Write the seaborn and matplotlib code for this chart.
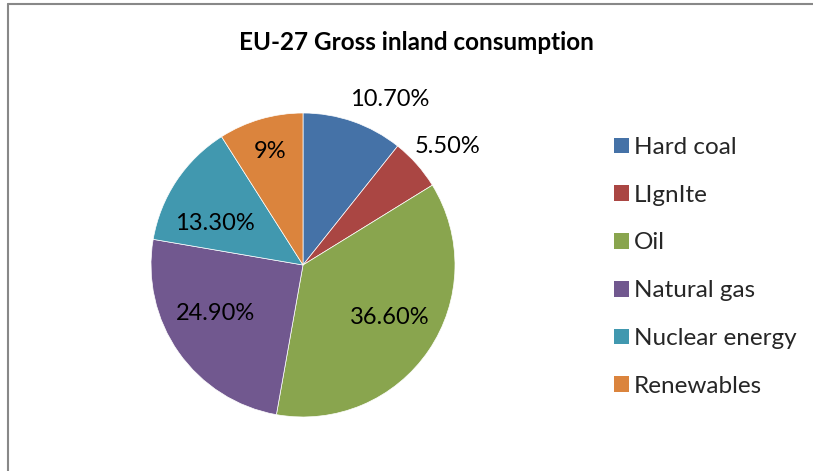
import matplotlib
matplotlib.use("Agg")
import matplotlib.pyplot as plt
import matplotlib.patches as mpatches
from matplotlib.lines import Line2D
import numpy as np
import seaborn as sns

# Energy mix shares (percent of gross inland consumption)
categories = ["Hard coal", "LIgnIte", "Oil", "Natural gas", "Nuclear energy", "Renewables"]
shares = [10.7, 5.5, 36.6, 24.9, 13.3, 9]
share_labels = ["10.70%", "5.50%", "36.60%", "24.90%", "13.30%", "9%"]
colors = ["#4572A7", "#AA4643", "#89A54E", "#71588F", "#4198AF", "#DB843D"]

# label placement: radial distance (in radii) and angular nudge (degrees, ccw)
label_dist = [1.23, 1.23, 0.665, 0.66, 0.64, 0.78]
label_nudge = [-8.5, -2.3, 3.0, -6.0, 8.7, 0.0]

sns.set_theme(style="white")
plt.rcParams["font.family"] = ["Lato", "DejaVu Sans"]
palette = sns.color_palette(colors)

W, H = 813, 471
fig = plt.figure(figsize=(W / 100, H / 100), dpi=100)
fig.patch.set_facecolor("white")

# pie axes: centre (303, 265) px, radius 152 px
cx, cy, r = 303, 265, 152
ax = fig.add_axes([(cx - r) / W, (H - cy - r) / H, 2 * r / W, 2 * r / H])

wedges, _ = ax.pie(
    shares,
    colors=palette,
    startangle=90,
    counterclock=False,
    radius=1.0,
    wedgeprops=dict(edgecolor="white", linewidth=0.5),
)
ax.set_xlim(-1, 1)
ax.set_ylim(-1, 1)
ax.axis("off")

for w, txt, d, nudge in zip(wedges, share_labels, label_dist, label_nudge):
    mid = np.deg2rad((w.theta1 + w.theta2) / 2 + nudge)
    ax.text(d * np.cos(mid), d * np.sin(mid), txt,
            ha="center", va="center", fontsize=17, color="#000000")

fig.text(416 / W, 1 - 42 / H, "EU-27 Gross inland consumption",
         ha="center", va="center", fontsize=17.5, fontweight="bold", color="#000000")

handles = [mpatches.Patch(facecolor=c, edgecolor="none") for c in palette]
fig.legend(handles, categories, loc="upper left",
           bbox_to_anchor=(614 / W, 1 - 137 / H),
           frameon=False, fontsize=17.5,
           handlelength=0.62, handleheight=0.62, handletextpad=0.2,
           labelspacing=1.1, borderaxespad=0, borderpad=0)

# chart-area border (left and top edges)
fig.add_artist(Line2D([7.5 / W, 7.5 / W], [0, 1 - 3.5 / H], color="#888888",
                      linewidth=1.5, transform=fig.transFigure))
fig.add_artist(Line2D([7.5 / W, 1], [1 - 3.5 / H, 1 - 3.5 / H], color="#888888",
                      linewidth=1.5, transform=fig.transFigure))

fig.savefig("out.png", dpi=100)
